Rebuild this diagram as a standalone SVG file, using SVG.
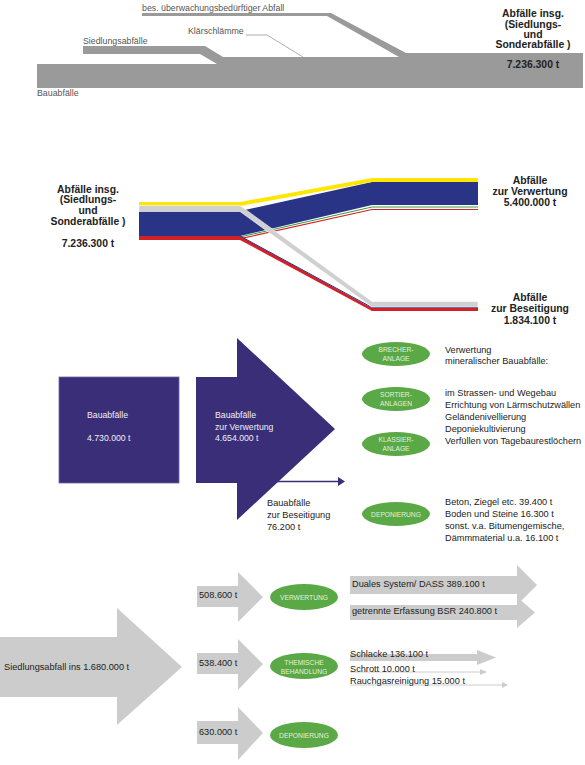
<svg xmlns="http://www.w3.org/2000/svg" width="585" height="765" viewBox="0 0 585 765">
<style>
text{font-family:"Liberation Sans",Arial,sans-serif;}
.t{font-size:9.2px;fill:#222;}
.tg{font-size:8.8px;fill:#555;}
.b{font-size:10.4px;font-weight:bold;fill:#222;text-anchor:middle;}
.w{font-size:8.7px;fill:#eeeef6;}
.e{font-size:6.7px;fill:#e4f2dc;text-anchor:middle;}
.grn{fill:#5aa846;}
.pur{fill:#3a2e78;}
.lg{fill:#cccccc;}
</style>
<rect width="585" height="765" fill="#ffffff"/>

<!-- Top: waste stream overview -->
<g id="top-streams">
<polygon fill="#9a9a9a" points="37,64 217,64 200,54 83,54 83,46 205,46 223,57 399,57 327,16 142,16 142,13 331,13 406,53 583,53 583,88 37,88"/>
<polyline points="246,35 267,35 303,57" fill="none" stroke="#9a9a9a" stroke-width="0.8"/>
<text class="tg" x="142" y="11">bes. überwachungsbedürftiger Abfall</text>
<text class="tg" x="83" y="44">Siedlungsabfälle</text>
<text class="tg" x="188" y="34">Klärschlämme</text>
<text class="tg" x="37" y="96">Bauabfälle</text>
<text class="b" x="533" y="17">Abfälle insg.</text>
<text class="b" x="533" y="28">(Siedlungs-</text>
<text class="b" x="533" y="38">und</text>
<text class="b" x="533" y="48">Sonderabfälle )</text>
<text class="b" x="533" y="68">7.236.300  t</text>
</g>

<!-- Sankey -->
<g id="sankey">
<polygon fill="#2a3486" points="139,211 240,211 372,182 478,182 478,205 372,205 240,236 139,236"/>
<polygon fill="#ffe600" points="139,202 240,202 372,178 478,178 478,182 372,182 240,206 139,206"/>
<polyline points="240,237 372,207 478,207" fill="none" stroke="#3a9a3a" stroke-width="1"/>
<polyline points="240,238.8 372,209.5 478,209.5" fill="none" stroke="#d42027" stroke-width="1.2"/>
<polygon fill="#d42027" points="139,236 240,236 372,308 478,308 478,311 372,311 240,240 139,240"/>
<polyline points="240,236 372,307.5 478,307.5" fill="none" stroke="#2a3486" stroke-width="1"/>
<polygon fill="#d0d0d0" stroke="#ffffff" stroke-width="0.6" points="139,205.5 240,205.5 372,301.5 478,301.5 478,307 372,307 240,211.5 139,211.5"/>
<text class="b" x="88" y="193">Abfälle insg.</text>
<text class="b" x="88" y="203">(Siedlungs-</text>
<text class="b" x="88" y="214">und</text>
<text class="b" x="88" y="225">Sonderabfälle )</text>
<text class="b" x="88" y="247">7.236.300  t</text>
<text class="b" x="530" y="184">Abfälle</text>
<text class="b" x="530" y="195">zur Verwertung</text>
<text class="b" x="530" y="206">5.400.000 t</text>
<text class="b" x="530" y="301">Abfälle</text>
<text class="b" x="530" y="312">zur Beseitigung</text>
<text class="b" x="530" y="324">1.834.100 t</text>
</g>

<!-- Bauabfälle -->
<g id="bau-total">
<rect class="pur" x="59" y="377" width="120" height="106" stroke="#6d67a3" stroke-width="0.8"/>
<text class="w" x="87" y="418">Bauabfälle</text>
<text class="w" x="87" y="441">4.730.000 t</text>
</g>
<g id="bau-verwertung">
<polygon class="pur" points="196,377 237,377 237,338 335,429 237,520 237,483 196,483"/>
<text class="w" x="215" y="418">Bauabfälle</text>
<text class="w" x="215" y="430">zur Verwertung</text>
<text class="w" x="215" y="441">4.654.000 t</text>
</g>
<g id="bau-connectors">
<line x1="277" y1="481.5" x2="339" y2="481.5" stroke="#3a2e78" stroke-width="1.5"/>
<polygon class="pur" points="338,477 345,481.5 338,486"/>
</g>
<g id="bau-beseitigung">
<text class="t" x="267" y="506">Bauabfälle</text>
<text class="t" x="267" y="518">zur Beseitigung</text>
<text class="t" x="267" y="530">76.200 t</text>
</g>
<g id="brecher">
<ellipse class="grn" cx="396" cy="354" rx="34" ry="12"/>
<text class="e" x="396" y="352">BRECHER-</text>
<text class="e" x="396" y="361">ANLAGE</text>
</g>
<g id="sortier">
<ellipse class="grn" cx="396" cy="399" rx="34" ry="12"/>
<text class="e" x="396" y="397">SORTIER-</text>
<text class="e" x="396" y="406">ANLAGEN</text>
</g>
<g id="klassier">
<ellipse class="grn" cx="396" cy="444" rx="34" ry="12"/>
<text class="e" x="396" y="442">KLASSIER-</text>
<text class="e" x="396" y="451">ANLAGE</text>
</g>
<g id="deponierung-bau">
<ellipse class="grn" cx="396" cy="514" rx="34" ry="12"/>
<text class="e" x="396" y="516.5">DEPONIERUNG</text>
</g>
<g id="bau-texts">
<text class="t" x="445" y="353">Verwertung</text>
<text class="t" x="445" y="364">mineralischer Bauabfälle:</text>
<text class="t" x="445" y="396">im Strassen- und Wegebau</text>
<text class="t" x="445" y="408">Errichtung von Lärmschutzwällen</text>
<text class="t" x="445" y="420">Geländenivellierung</text>
<text class="t" x="445" y="432">Deponiekultivierung</text>
<text class="t" x="445" y="444">Verfüllen von Tagebaurestlöchern</text>
<text class="t" x="445" y="505">Beton, Ziegel etc. 39.400 t</text>
<text class="t" x="445" y="517">Boden und Steine 16.300 t</text>
<text class="t" x="445" y="529">sonst. v.a. Bitumengemische,</text>
<text class="t" x="445" y="541">Dämmmaterial u.a. 16.100 t</text>
</g>

<!-- Siedlungsabfall -->
<g id="siedlung-total">
<polygon class="lg" points="0,637 117,637 117,608 182,667 117,725 117,697 0,697"/>
<text class="t" x="4" y="670">Siedlungsabfall ins 1.680.000 t</text>
</g>
<g id="s-arrow1">
<polygon class="lg" points="197,586 238,586 238,572 263,597 238,622 238,607 197,607"/>
<text class="t" x="199" y="598">508.600 t</text>
</g>
<g id="s-arrow2">
<polygon class="lg" points="197,653 238,653 238,639 263,664 238,690 238,674 197,674"/>
<text class="t" x="199" y="666">538.400 t</text>
</g>
<g id="s-arrow3">
<polygon class="lg" points="197,721 238,721 238,707 263,733 238,760 238,744 197,744"/>
<text class="t" x="199" y="735">630.000 t</text>
</g>
<g id="verwertung">
<ellipse class="grn" cx="304" cy="597" rx="34" ry="13"/>
<text class="e" x="304" y="599.5">VERWERTUNG</text>
</g>
<g id="thermisch">
<ellipse class="grn" cx="304" cy="666" rx="34" ry="13"/>
<text class="e" x="304" y="665">THEMISCHE</text>
<text class="e" x="304" y="674">BEHANDLUNG</text>
</g>
<g id="deponierung-s">
<ellipse class="grn" cx="304" cy="735" rx="34" ry="13"/>
<text class="e" x="304" y="737.5">DEPONIERUNG</text>
</g>
<g id="outflows">
<polygon class="lg" points="350,576 517,576 517,565 537,585 517,605 517,594 350,594"/>
<polygon class="lg" points="350,605 517,605 517,597 535,612.5 517,628 517,620 350,620"/>
<polygon class="lg" points="350,654 477,654 477,650 496,657.5 477,665 477,661 350,661"/>
<line x1="350" y1="672" x2="481" y2="672" stroke="#cccccc" stroke-width="1"/>
<polygon class="lg" points="480,669 487,672 480,675"/>
<line x1="350" y1="685" x2="503" y2="685" stroke="#cccccc" stroke-width="1"/>
<polygon class="lg" points="502,682 508,685 502,688"/>
<text class="t" x="352" y="587">Duales System/ DASS 389.100 t</text>
<text class="t" x="352" y="614">getrennte Erfassung BSR 240.800 t</text>
<text class="t" x="350" y="657">Schlacke 136.100 t</text>
<text class="t" x="350" y="672">Schrott 10.000 t</text>
<text class="t" x="350" y="684">Rauchgasreinigung 15.000 t</text>
</g>
</svg>
